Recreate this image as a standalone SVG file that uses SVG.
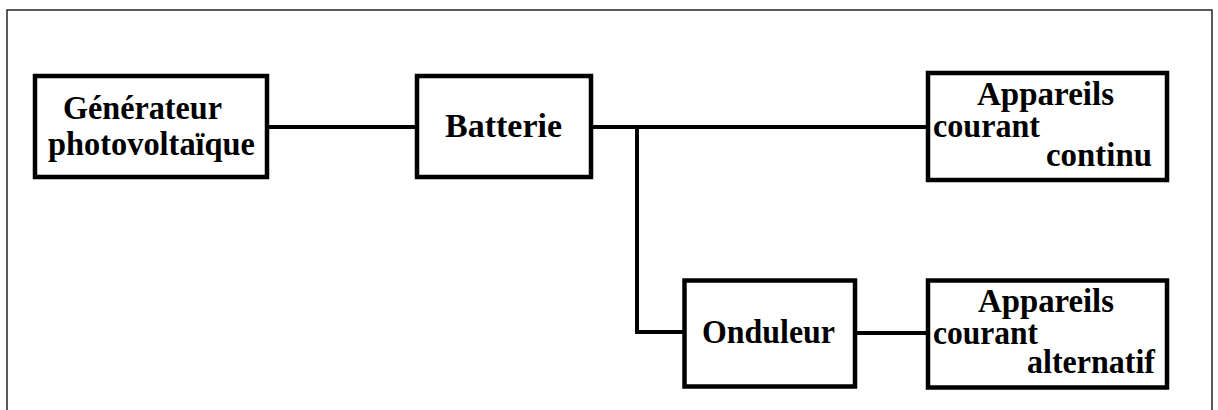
<svg xmlns="http://www.w3.org/2000/svg" width="1218" height="410" viewBox="0 0 1218 410">
<style>
.frame{fill:none;stroke:#333;stroke-width:1.6}
.box{fill:#fff;stroke:#000;stroke-width:4.5}
.wire{fill:none;stroke:#000;stroke-width:4}
.lbl{font-family:"Liberation Serif","Times New Roman",serif;font-weight:bold;font-size:34px;fill:#000}
</style>
<rect width="1218" height="410" fill="#fff"/>
<rect class="frame" x="7" y="10" width="1205" height="430"/>
<g id="connectors">
<line class="wire" x1="267" y1="127" x2="417" y2="127"/>
<line class="wire" x1="591" y1="127" x2="928" y2="127"/>
<path class="wire" d="M637 127 V332 H684"/>
<line class="wire" x1="855" y1="333" x2="928" y2="333"/>
</g>
<g id="generateur">
<rect class="box" x="35" y="76" width="232" height="101"/>
<text class="lbl" x="63" y="119" textLength="159" lengthAdjust="spacingAndGlyphs">Générateur</text>
<text class="lbl" x="48" y="155" textLength="207" lengthAdjust="spacingAndGlyphs">photovoltaïque</text>
</g>
<g id="batterie">
<rect class="box" x="417" y="76" width="174" height="101"/>
<text class="lbl" x="445" y="137" textLength="117" lengthAdjust="spacingAndGlyphs">Batterie</text>
</g>
<g id="appareils-continu">
<rect class="box" x="928" y="73" width="239" height="107"/>
<text class="lbl" x="977" y="105" textLength="137" lengthAdjust="spacingAndGlyphs">Appareils</text>
<text class="lbl" x="933" y="137" textLength="107" lengthAdjust="spacingAndGlyphs">courant</text>
<text class="lbl" x="1046" y="166" textLength="106" lengthAdjust="spacingAndGlyphs">continu</text>
</g>
<g id="onduleur">
<rect class="box" x="684.5" y="280.5" width="170.5" height="106"/>
<text class="lbl" x="702" y="343" textLength="133" lengthAdjust="spacingAndGlyphs">Onduleur</text>
</g>
<g id="appareils-alternatif">
<rect class="box" x="928" y="280.5" width="239" height="107"/>
<text class="lbl" x="978" y="312" textLength="136" lengthAdjust="spacingAndGlyphs">Appareils</text>
<text class="lbl" x="933" y="344" textLength="105" lengthAdjust="spacingAndGlyphs">courant</text>
<text class="lbl" x="1027" y="373" textLength="128" lengthAdjust="spacingAndGlyphs">alternatif</text>
</g>
</svg>
